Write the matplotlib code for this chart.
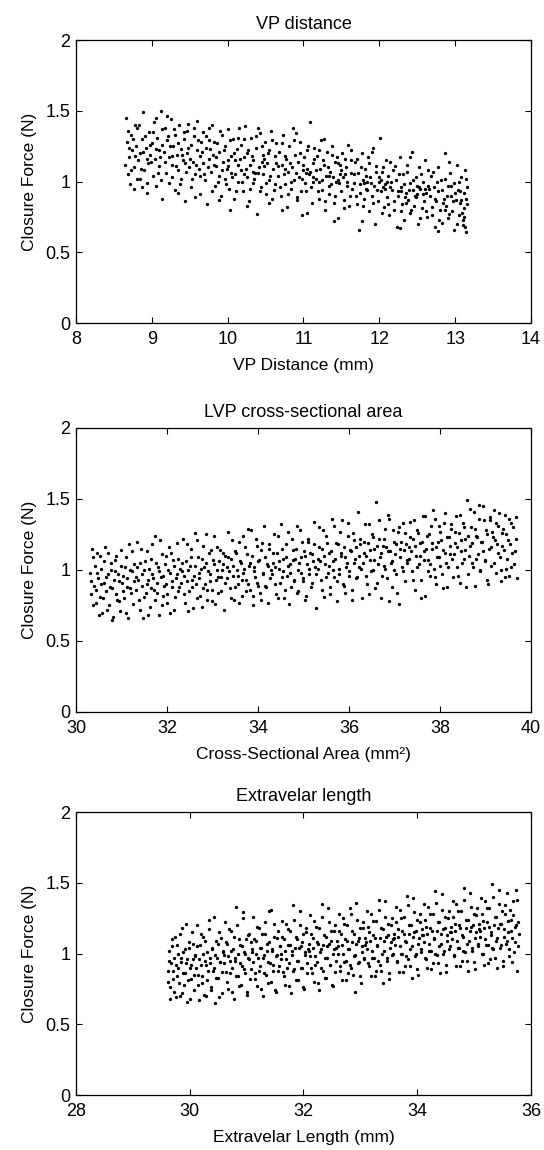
import matplotlib
matplotlib.use('Agg')
import matplotlib.pyplot as plt
import numpy as np

plt.rcParams['font.family'] = ['Liberation Sans', 'DejaVu Sans']

# VP distance panel: (VP distance mm, closure force N)
vp_pts = [
    (8.66,1.45),(8.67,1.28),(8.68,1.05),(8.70,1.17),(8.71,0.98),(8.73,1.33),(8.74,1.22),(8.76,1.10),(8.77,0.95),(8.79,1.25),(8.80,1.38),
    (8.82,1.15),(8.84,1.02),(8.85,1.20),(8.87,1.30),(8.88,1.49),(8.90,1.08),(8.92,1.24),(8.93,0.92),(8.95,1.13),(8.96,1.35),(8.98,1.19),
    (9.00,1.27),(9.01,1.04),(9.03,1.42),(9.04,1.16),(9.06,0.97),(9.07,1.31),(9.09,1.22),(9.10,1.11),(9.12,1.50),(9.13,1.26),(9.14,0.88),
    (9.16,1.21),(9.17,1.38),(9.19,1.06),(9.20,1.29),(9.22,0.99),(9.23,1.17),(9.25,1.44),(9.27,1.12),(9.28,1.25),(9.30,0.94),(9.31,1.33),
    (9.33,1.19),(9.35,1.08),(9.36,1.40),(9.38,1.23),(9.39,1.02),(9.41,1.15),(9.43,1.30),(9.44,0.86),(9.46,1.20),(9.47,1.36),(9.49,1.10),
    (9.51,1.26),(9.52,0.96),(9.54,1.14),(9.55,1.32),(9.57,1.05),(9.59,1.22),(9.60,1.43),(9.62,1.09),(9.63,1.18),(9.64,0.91),(9.65,1.28),
    (9.67,1.13),(9.68,1.35),(9.70,1.01),(9.72,1.24),(9.73,0.84),(9.75,1.16),(9.76,1.29),(9.78,1.07),(9.80,1.40),(9.81,1.19),(9.83,0.97),
    (9.84,1.11),(9.86,1.27),(9.88,1.04),(9.89,1.21),(9.91,0.90),(9.92,1.33),(9.94,1.14),(9.96,1.02),(9.97,1.25),(9.99,1.09),(10.00,1.37),
    (10.02,0.95),(10.04,1.18),(10.05,1.06),(10.07,1.30),(10.08,0.88),(10.10,1.15),(10.12,1.23),(10.13,1.00),(10.14,1.12),(10.15,1.38),(10.03,0.80),
    (10.17,1.08),(10.18,1.26),(10.20,0.93),(10.22,1.17),(10.23,1.39),(10.25,1.03),(10.26,1.20),(10.28,0.86),(10.30,1.12),(10.31,1.31),(10.33,0.99),
    (10.34,1.15),(10.36,1.06),(10.38,1.24),(10.39,0.77),(10.41,1.10),(10.42,1.34),(10.44,0.96),(10.46,1.19),(10.47,1.05),(10.49,1.28),(10.50,0.91),
    (10.52,1.13),(10.54,1.01),(10.55,1.22),(10.57,1.36),(10.58,0.88),(10.60,1.09),(10.62,1.18),(10.63,0.98),(10.64,1.27),(10.21,1.05),(10.45,1.14),
    (10.67,1.04),(10.68,1.21),(10.70,0.90),(10.72,1.12),(10.73,1.33),(10.75,0.98),(10.77,1.16),(10.78,0.82),(10.80,1.07),(10.81,1.25),(10.83,0.95),
    (10.85,1.10),(10.86,1.38),(10.88,1.01),(10.89,1.19),(10.91,0.87),(10.93,1.14),(10.94,1.03),(10.96,1.28),(10.97,0.93),(10.99,1.08),(11.01,1.17),
    (11.02,0.99),(11.04,1.22),(11.05,0.78),(11.07,1.05),(11.09,1.42),(11.10,0.96),(11.12,1.13),(11.13,1.00),(11.14,1.24),(10.76,1.09),(11.03,1.06),
    (11.17,1.02),(11.18,1.18),(11.20,0.88),(11.22,1.09),(11.23,1.29),(11.25,0.94),(11.27,1.12),(11.28,0.80),(11.30,1.04),(11.31,1.21),(11.33,0.91),
    (11.35,1.07),(11.36,0.98),(11.38,1.25),(11.40,0.85),(11.41,1.14),(11.43,1.00),(11.44,1.17),(11.46,0.74),(11.48,1.05),(11.49,0.93),(11.51,1.20),
    (11.52,1.03),(11.54,0.87),(11.56,1.10),(11.57,0.97),(11.59,1.26),(11.60,0.83),(11.62,1.06),(11.63,1.15),(11.64,0.95),(11.21,1.00),(11.45,1.01),
    (11.67,0.99),(11.68,1.14),(11.70,0.84),(11.72,1.06),(11.73,0.66),(11.75,0.92),(11.77,1.20),(11.78,1.01),(11.80,0.88),(11.81,1.09),(11.83,0.95),
    (11.85,1.17),(11.86,0.79),(11.88,1.03),(11.90,0.90),(11.91,1.24),(11.93,0.97),(11.94,0.70),(11.96,1.11),(11.98,0.86),(11.99,1.00),(12.01,1.31),
    (12.02,0.93),(12.04,1.07),(12.06,0.82),(12.07,0.98),(12.09,1.15),(12.10,0.89),(12.12,1.04),(12.13,0.76),(12.14,0.96),(11.84,1.00),(12.05,0.96),
    (12.17,0.94),(12.18,1.08),(12.20,0.80),(12.22,1.01),(12.23,0.68),(12.25,0.90),(12.27,1.17),(12.28,0.96),(12.30,0.84),(12.31,1.05),(12.33,0.73),
    (12.35,0.92),(12.36,1.12),(12.38,0.87),(12.40,0.99),(12.41,0.78),(12.43,1.21),(12.44,0.94),(12.46,0.83),(12.48,1.03),(12.49,0.89),(12.51,0.70),
    (12.52,1.10),(12.54,0.95),(12.56,0.81),(12.57,1.00),(12.59,0.86),(12.60,1.15),(12.62,0.92),(12.63,0.75),(12.64,0.97),(12.29,0.93),(12.50,0.91),
    (12.67,0.90),(12.68,1.04),(12.70,0.76),(12.72,0.96),(12.73,0.68),(12.75,0.86),(12.77,1.10),(12.78,0.93),(12.80,0.80),(12.81,1.01),(12.83,0.71),
    (12.85,0.88),(12.86,1.20),(12.88,0.83),(12.90,0.97),(12.91,0.74),(12.93,1.06),(12.94,0.90),(12.96,0.79),(12.98,0.99),(12.99,0.66),(13.01,0.87),
    (13.02,1.12),(13.04,0.94),(13.05,0.76),(13.07,0.85),(13.08,1.03),(13.10,0.69),(13.11,0.92),(13.12,0.81),(13.13,1.08),(13.14,0.64),(13.15,0.96),
    (13.10,0.73),(13.14,0.88),
]
vp_pts_more = [
    (8.65,1.12),(8.69,1.36),(8.72,1.08),(8.75,1.30),(8.78,1.18),(8.81,1.02),(8.83,1.40),(8.86,1.09),(8.89,1.21),(8.91,1.32),(8.94,0.99),(8.97,1.26),
    (8.99,1.14),(9.02,1.35),(9.05,1.23),(9.08,1.06),(9.11,1.17),(9.14,1.37),(8.70,1.24),(8.93,1.16),(9.06,1.45),(8.78,1.40),(9.12,1.01),(8.87,0.96),
    (9.18,1.14),(9.21,1.32),(9.24,1.25),(9.26,1.03),(9.29,1.37),(9.32,1.11),(9.34,1.27),(9.37,0.98),(9.40,1.19),(9.42,1.35),(9.45,1.07),(9.48,1.24),
    (9.50,1.16),(9.53,1.02),(9.56,1.38),(9.58,1.12),(9.61,1.29),(9.63,1.04),(9.20,1.46),(9.34,0.92),(9.48,1.41),(9.57,0.89),(9.26,1.18),(9.44,1.13),
    (9.66,1.21),(9.69,1.05),(9.71,1.32),(9.74,1.10),(9.77,1.23),(9.79,0.93),(9.82,1.28),(9.85,1.17),(9.87,1.00),(9.90,1.36),(9.93,1.08),(9.95,1.22),
    (9.98,0.98),(10.01,1.15),(10.03,1.29),(10.06,1.03),(10.09,1.20),(10.11,0.93),(10.14,1.31),(9.75,1.38),(9.88,0.87),(10.00,1.11),(10.10,1.05),(9.82,1.12),
    (10.16,1.16),(10.19,1.00),(10.21,1.30),(10.24,1.09),(10.27,1.22),(10.29,0.95),(10.32,1.18),(10.35,1.02),(10.37,1.32),(10.40,1.06),(10.43,0.93),(10.45,1.25),
    (10.48,1.11),(10.51,0.99),(10.53,1.20),(10.56,1.04),(10.59,1.29),(10.61,0.94),(10.64,1.13),(10.26,0.83),(10.40,1.38),(10.55,0.85),(10.33,1.07),(10.48,1.16),
    (10.66,1.11),(10.69,0.96),(10.71,1.27),(10.74,1.05),(10.76,1.18),(10.79,0.91),(10.82,1.13),(10.84,1.00),(10.87,1.29),(10.90,1.06),(10.92,0.89),(10.95,1.20),
    (10.98,1.02),(11.00,1.12),(11.03,0.93),(11.06,1.25),(11.08,1.07),(11.11,0.85),(11.14,1.16),(10.72,0.80),(10.90,1.34),(11.05,1.09),(10.98,0.76),(11.12,1.03),
    (11.16,1.08),(11.19,0.93),(11.21,1.22),(11.24,1.01),(11.26,1.15),(11.29,0.86),(11.32,1.10),(11.34,0.97),(11.37,1.19),(11.39,1.03),(11.42,0.90),(11.45,1.13),
    (11.47,0.99),(11.50,1.08),(11.53,0.81),(11.55,1.16),(11.58,1.00),(11.61,0.90),(11.63,1.22),(11.27,1.30),(11.40,0.72),(11.55,1.05),(11.33,1.04),(11.48,1.12),
    (11.66,1.05),(11.69,0.90),(11.71,1.16),(11.74,0.98),(11.76,1.10),(11.79,0.83),(11.82,1.04),(11.84,0.94),(11.87,1.13),(11.89,0.99),(11.92,0.85),(11.95,1.07),
    (11.97,0.94),(12.00,1.03),(12.03,0.78),(12.05,1.10),(12.08,0.95),(12.11,0.84),(12.14,1.14),(11.77,0.72),(11.90,1.21),(12.02,1.01),(11.80,0.99),(12.10,1.00),
    (12.16,1.00),(12.19,0.86),(12.21,1.11),(12.24,0.93),(12.26,1.05),(12.29,0.79),(12.32,0.98),(12.34,0.89),(12.37,1.07),(12.39,0.94),(12.42,0.80),(12.45,1.01),
    (12.47,0.90),(12.50,0.97),(12.53,0.74),(12.55,1.05),(12.58,0.91),(12.61,0.79),(12.64,1.08),(12.27,0.67),(12.40,1.17),(12.52,0.96),(12.35,0.85),(12.60,0.95),
    (12.66,0.95),(12.69,0.82),(12.71,1.07),(12.74,0.88),(12.76,1.00),(12.79,0.73),(12.82,0.94),(12.84,0.85),(12.87,1.02),(12.89,0.90),(12.92,0.77),(12.95,0.97),
    (12.97,0.86),(13.00,0.92),(13.03,0.70),(13.05,1.00),(13.08,0.87),(13.11,0.75),(13.14,1.02),(12.77,0.65),(12.92,1.14),(13.06,0.93),(12.86,0.80),(13.13,0.68),
    (13.09,0.78),(13.15,0.84),
]

# LVP cross-sectional area panel: (area mm^2, closure force N)
lvp_pts = [
    (30.32,0.92),(30.35,1.15),(30.38,0.75),(30.41,1.03),(30.44,0.86),(30.47,0.98),(30.50,0.68),(30.53,1.10),(30.56,0.90),(30.59,0.80),(30.62,1.06),
    (30.65,0.95),(30.68,0.72),(30.71,1.12),(30.74,0.88),(30.77,1.00),(30.80,0.65),(30.83,0.93),(30.86,1.07),(30.89,0.83),(30.92,0.97),(30.95,0.78),
    (30.98,1.14),(31.01,0.91),(31.04,0.85),(31.07,1.02),(31.10,0.70),(31.13,0.94),(31.16,1.18),(31.19,0.87),(31.22,0.99),(31.25,0.76),(31.28,1.04),
    (31.32,0.95),(31.35,1.20),(31.38,0.79),(31.41,1.05),(31.44,0.89),(31.47,0.66),(31.50,1.00),(31.53,0.84),(31.56,1.13),(31.59,0.93),(31.62,0.74),
    (31.65,1.08),(31.68,0.97),(31.71,0.86),(31.74,1.24),(31.77,0.91),(31.80,1.02),(31.83,0.68),(31.86,0.95),(31.89,1.11),(31.92,0.82),(31.95,1.04),
    (31.98,0.90),(32.01,0.77),(32.04,1.16),(32.07,0.98),(32.10,0.88),(32.13,1.07),(32.16,0.72),(32.19,0.94),(32.22,1.19),(32.25,0.85),(32.28,1.01),
    (32.32,0.99),(32.35,1.22),(32.38,0.83),(32.41,1.06),(32.44,0.92),(32.47,0.71),(32.50,1.03),(32.53,1.15),(32.56,0.88),(32.59,0.96),(32.62,1.26),
    (32.65,0.80),(32.68,1.09),(32.71,0.94),(32.74,1.01),(32.77,0.74),(32.80,1.17),(32.83,0.90),(32.86,1.05),(32.89,0.86),(32.92,1.12),(32.95,0.97),
    (32.98,0.78),(33.01,1.07),(33.04,1.24),(33.07,0.93),(33.10,1.00),(33.13,0.84),(33.16,1.14),(33.19,0.95),(33.22,1.04),(33.25,0.72),(33.28,1.10),
    (33.32,1.02),(33.35,1.27),(33.38,0.87),(33.41,1.08),(33.44,0.96),(33.47,0.79),(33.50,1.13),(33.53,1.00),(33.56,0.90),(33.59,1.20),(33.62,1.05),
    (33.65,0.82),(33.68,0.98),(33.71,1.16),(33.74,0.93),(33.77,1.29),(33.80,1.03),(33.83,0.86),(33.86,1.10),(33.89,0.75),(33.92,0.99),(33.95,1.22),
    (33.98,0.91),(34.01,1.06),(34.04,0.84),(34.07,1.14),(34.10,0.97),(34.13,1.31),(34.16,0.89),(34.19,1.04),(34.22,0.77),(34.25,1.18),(34.28,1.00),
    (34.32,1.05),(34.35,1.25),(34.38,0.90),(34.41,1.12),(34.44,0.80),(34.47,1.01),(34.50,1.32),(34.53,0.95),(34.56,1.08),(34.59,0.86),(34.62,1.18),
    (34.65,1.03),(34.68,0.76),(34.71,0.98),(34.74,1.22),(34.77,1.07),(34.80,0.92),(34.83,1.15),(34.86,0.84),(34.89,1.00),(34.92,1.28),(34.95,1.09),
    (34.98,0.94),(35.01,1.13),(35.04,0.79),(35.07,1.04),(35.10,1.20),(35.13,0.97),(35.16,0.88),(35.19,1.11),(35.22,1.34),(35.25,1.02),(35.28,0.73),
    (35.32,1.08),(35.35,1.30),(35.38,0.93),(35.41,1.15),(35.44,0.81),(35.47,1.04),(35.50,1.24),(35.53,0.98),(35.56,1.12),(35.59,0.88),(35.62,1.36),
    (35.65,1.06),(35.68,0.95),(35.71,1.19),(35.74,0.78),(35.77,1.01),(35.80,1.27),(35.83,1.10),(35.86,0.90),(35.89,1.16),(35.92,0.84),(35.95,1.05),
    (35.98,1.33),(36.01,0.99),(36.04,1.13),(36.07,0.86),(36.10,1.21),(36.13,1.08),(36.16,0.94),(36.19,1.41),(36.22,1.02),(36.25,1.18),(36.28,0.80),
    (36.32,1.12),(36.35,1.32),(36.38,0.96),(36.41,1.19),(36.44,0.83),(36.47,1.07),(36.50,1.25),(36.53,1.00),(36.56,1.15),(36.59,1.48),(36.62,0.91),
    (36.65,1.22),(36.68,1.09),(36.71,0.80),(36.74,1.17),(36.77,1.03),(36.80,1.29),(36.83,0.94),(36.86,1.13),(36.89,1.36),(36.92,1.05),(36.95,0.88),
    (36.98,1.20),(37.01,1.11),(37.04,0.97),(37.07,1.27),(37.10,0.76),(37.13,1.15),(37.16,1.02),(37.19,1.33),(37.22,0.92),(37.25,1.18),(37.28,1.07),
    (37.32,1.16),(37.35,1.34),(37.38,0.99),(37.41,1.22),(37.44,0.86),(37.47,1.10),(37.50,1.28),(37.53,1.04),(37.56,1.19),(37.59,0.93),(37.62,1.38),
    (37.65,1.13),(37.68,0.82),(37.71,1.24),(37.74,1.07),(37.77,0.96),(37.80,1.31),(37.83,1.15),(37.86,1.01),(37.89,1.36),(37.92,0.90),(37.95,1.20),
    (37.98,1.09),(38.01,1.27),(38.04,0.97),(38.07,1.14),(38.10,1.40),(38.13,1.05),(38.16,0.88),(38.19,1.23),(38.22,1.11),(38.25,1.32),(38.28,0.95),
    (38.32,1.19),(38.35,1.38),(38.38,1.02),(38.41,1.26),(38.44,0.91),(38.47,1.13),(38.50,1.33),(38.53,1.08),(38.56,1.22),(38.59,1.49),(38.62,0.97),
    (38.65,1.17),(38.68,1.30),(38.71,1.05),(38.74,1.41),(38.77,0.89),(38.80,1.24),(38.83,1.11),(38.86,1.36),(38.89,1.00),(38.92,1.20),(38.95,1.45),
    (38.98,1.07),(39.01,1.28),(39.04,0.93),(39.07,1.15),(39.10,1.35),(39.13,1.03),(39.16,1.23),(39.19,1.42),(39.22,0.98),(39.25,1.18),(39.28,1.31),
    (39.31,1.09),(39.34,0.92),(39.37,1.26),(39.40,1.14),(39.43,1.39),(39.46,1.01),(39.49,1.21),(39.52,0.96),(39.55,1.33),(39.58,1.12),(39.62,1.04),
    (39.66,1.37),(39.69,0.94),
]
lvp_pts_more = [
    (30.31,0.98),(30.34,0.83),(30.37,1.09),(30.40,0.89),(30.43,0.77),(30.46,1.12),(30.49,0.94),(30.52,0.81),(30.55,1.01),(30.58,0.70),(30.61,0.91),
    (30.64,1.16),(30.67,0.85),(30.70,0.97),(30.73,0.75),(30.76,1.05),(30.79,0.87),(30.82,0.67),(30.85,0.99),(30.88,1.10),(30.91,0.79),(30.94,0.92),
    (30.97,0.71),(31.00,1.03),(31.03,0.96),(31.06,0.80),(31.09,1.09),(31.12,0.88),(31.15,0.66),(31.18,1.00),(31.21,0.84),(31.24,1.13),(31.27,0.92),
    (31.31,0.86),(31.34,1.02),(31.37,0.93),(31.40,0.72),(31.43,1.15),(31.46,0.97),(31.49,0.81),(31.52,1.06),(31.55,0.90),(31.58,0.68),(31.61,1.01),
    (31.64,0.87),(31.67,1.18),(31.70,0.94),(31.73,0.79),(31.76,1.05),(31.79,0.84),(31.82,0.99),(31.85,1.21),(31.88,0.75),(31.91,0.96),(31.94,0.89),
    (31.97,1.10),(32.00,0.83),(32.03,1.00),(32.06,0.70),(32.09,1.12),(32.12,0.92),(32.15,1.03),(32.18,0.81),(32.21,0.97),(32.24,1.08),(32.27,0.88),
    (32.31,0.91),(32.34,1.05),(32.37,0.96),(32.40,0.77),(32.43,1.18),(32.46,1.00),(32.49,0.85),(32.52,1.09),(32.55,0.93),(32.58,0.73),(32.61,1.03),
    (32.64,0.90),(32.67,1.21),(32.70,0.98),(32.73,0.82),(32.76,1.08),(32.79,0.87),(32.82,1.02),(32.85,1.25),(32.88,0.79),(32.91,0.99),(32.94,0.92),
    (32.97,1.14),(33.00,0.86),(33.03,1.04),(33.06,0.76),(33.09,1.16),(33.12,0.95),(33.15,1.06),(33.18,0.85),(33.21,1.00),(33.24,1.12),(33.27,0.91),
    (33.31,0.94),(33.34,1.09),(33.37,0.99),(33.40,0.80),(33.43,1.21),(33.46,1.03),(33.49,0.88),(33.52,1.12),(33.55,0.96),(33.58,0.77),(33.61,1.06),
    (33.64,0.93),(33.67,1.24),(33.70,1.01),(33.73,0.85),(33.76,1.11),(33.79,0.90),(33.82,1.05),(33.85,1.28),(33.88,0.82),(33.91,1.02),(33.94,0.95),
    (33.97,1.17),(34.00,0.89),(34.03,1.07),(34.06,0.79),(34.09,1.19),(34.12,0.98),(34.15,1.09),(34.18,0.88),(34.21,1.03),(34.24,1.15),(34.27,0.94),
    (34.31,0.97),(34.34,1.12),(34.37,1.02),(34.40,0.83),(34.43,1.24),(34.46,1.06),(34.49,0.91),(34.52,1.15),(34.55,0.99),(34.58,0.80),(34.61,1.09),
    (34.64,0.96),(34.67,1.27),(34.70,1.04),(34.73,0.88),(34.76,1.14),(34.79,0.93),(34.82,1.08),(34.85,1.31),(34.88,0.85),(34.91,1.05),(34.94,0.98),
    (34.97,1.20),(35.00,0.92),(35.03,1.10),(35.06,0.82),(35.09,1.22),(35.12,1.01),(35.15,1.12),(35.18,0.91),(35.21,1.06),(35.24,1.18),(35.27,0.97),
    (35.31,1.01),(35.34,1.16),(35.37,1.06),(35.40,0.86),(35.43,1.28),(35.46,1.10),(35.49,0.95),(35.52,1.19),(35.55,1.03),(35.58,0.83),(35.61,1.13),
    (35.64,1.00),(35.67,1.31),(35.70,1.08),(35.73,0.92),(35.76,1.18),(35.79,0.97),(35.82,1.12),(35.85,1.35),(35.88,0.89),(35.91,1.09),(35.94,1.02),
    (35.97,1.24),(36.00,0.96),(36.03,1.14),(36.06,0.79),(36.09,1.26),(36.12,1.05),(36.15,1.16),(36.18,0.95),(36.21,1.10),(36.24,1.22),(36.27,1.01),
    (36.31,1.05),(36.34,1.20),(36.37,1.10),(36.40,0.90),(36.43,1.32),(36.46,1.14),(36.49,0.99),(36.52,1.23),(36.55,1.07),(36.58,0.87),(36.61,1.17),
    (36.64,1.04),(36.67,1.35),(36.70,1.12),(36.73,0.96),(36.76,1.22),(36.79,1.01),(36.82,1.16),(36.85,1.39),(36.88,0.78),(36.91,1.13),(36.94,1.06),
    (36.97,1.28),(37.00,1.00),(37.03,1.18),(37.06,0.84),(37.09,1.30),(37.12,1.09),(37.15,1.20),(37.18,0.99),(37.21,1.14),(37.24,1.26),(37.27,1.05),
    (37.31,1.08),(37.34,1.23),(37.37,1.13),(37.40,0.93),(37.43,1.35),(37.46,1.17),(37.49,1.02),(37.52,1.26),(37.55,1.10),(37.58,0.80),(37.61,1.20),
    (37.64,1.07),(37.67,1.38),(37.70,1.15),(37.73,0.99),(37.76,1.25),(37.79,1.04),(37.82,1.19),(37.85,1.42),(37.88,0.95),(37.91,1.16),(37.94,1.09),
    (37.97,1.31),(38.00,1.03),(38.03,1.21),(38.06,0.87),(38.09,1.33),(38.12,1.12),(38.15,1.23),(38.18,1.02),(38.21,1.17),(38.24,1.29),(38.27,1.08),
    (38.31,1.11),(38.34,1.27),(38.37,1.16),(38.40,0.96),(38.43,1.39),(38.46,1.21),(38.49,1.05),(38.52,1.30),(38.55,1.14),(38.58,0.88),(38.61,1.24),
    (38.64,1.10),(38.67,1.43),(38.70,1.19),(38.73,1.02),(38.76,1.29),(38.79,1.08),(38.82,1.23),(38.85,1.46),(38.88,0.99),(38.91,1.20),(38.94,1.13),
    (38.97,1.35),(39.00,1.06),(39.03,1.25),(39.06,0.90),(39.09,1.37),(39.12,1.16),(39.15,1.27),(39.18,1.05),(39.21,1.21),(39.24,1.33),(39.27,1.12),
    (39.30,1.40),(39.33,1.00),(39.36,1.17),(39.39,1.29),(39.42,0.95),(39.45,1.25),(39.48,1.08),(39.51,1.36),(39.54,1.18),(39.57,1.02),(39.60,1.30),
    (39.64,1.13),(39.68,1.22),
]

# Extravelar length panel: (length mm, closure force N)
ext_pts = [
    (29.62,0.80),(29.64,0.95),(29.66,0.68),(29.68,1.05),(29.70,0.88),(29.72,0.73),(29.74,1.12),(29.76,0.92),(29.78,0.84),(29.80,1.00),(29.82,0.70),
    (29.84,0.97),(29.86,1.18),(29.88,0.86),(29.90,0.78),(29.92,1.03),(29.94,0.93),(29.96,0.66),(29.98,1.08),(30.00,0.90),(30.02,0.82),(30.04,1.15),
    (30.06,0.96),(30.08,0.74),
    (30.10,0.98),(30.12,1.20),(30.14,0.85),(30.16,0.67),(30.18,1.06),(30.20,0.92),(30.22,0.79),(30.24,1.12),(30.26,0.95),(30.28,0.70),(30.30,1.01),
    (30.32,0.88),(30.34,1.24),(30.36,0.93),(30.38,0.76),(30.40,1.04),(30.42,0.90),(30.44,0.65),(30.46,1.09),(30.48,0.97),(30.50,0.83),(30.52,1.15),
    (30.54,0.94),(30.56,0.72),(30.58,1.02),
    (30.60,0.99),(30.62,1.22),(30.64,0.87),(30.66,1.07),(30.68,0.75),(30.70,0.95),(30.72,1.16),(30.74,0.90),(30.76,1.03),(30.78,0.68),(30.80,0.97),
    (30.82,1.33),(30.84,0.84),(30.86,1.10),(30.88,0.93),(30.90,0.78),(30.92,1.05),(30.94,1.25),(30.96,0.89),(30.98,1.00),(31.00,0.73),(31.02,1.13),
    (31.04,0.96),(31.06,0.82),(31.08,1.08),
    (31.10,1.01),(31.12,1.26),(31.14,0.86),(31.16,1.09),(31.18,0.77),(31.20,0.97),(31.22,1.18),(31.24,0.91),(31.26,1.04),(31.28,0.70),(31.30,0.99),
    (31.32,1.14),(31.34,0.85),(31.36,1.07),(31.38,0.94),(31.40,1.30),(31.42,0.80),(31.44,1.02),(31.46,0.92),(31.48,1.21),(31.50,0.74),(31.52,0.98),
    (31.54,1.11),(31.56,0.88),(31.58,1.05),
    (31.60,1.00),(31.62,1.23),(31.64,0.87),(31.66,1.10),(31.68,0.78),(31.70,0.96),(31.72,1.17),(31.74,0.93),(31.76,1.06),(31.78,0.72),(31.80,1.02),
    (31.82,1.34),(31.84,0.89),(31.86,1.12),(31.88,0.95),(31.90,0.81),(31.92,1.04),(31.94,1.20),(31.96,0.90),(31.98,1.08),(32.00,0.76),(32.02,0.99),
    (32.04,1.15),(32.06,0.86),(32.08,1.03),
    (32.10,1.02),(32.12,1.27),(32.14,0.90),(32.16,1.11),(32.18,0.80),(32.20,0.98),(32.22,1.19),(32.24,0.94),(32.26,1.07),(32.28,0.74),(32.30,1.03),
    (32.32,1.35),(32.34,0.88),(32.36,1.13),(32.38,0.97),(32.40,0.83),(32.42,1.05),(32.44,1.22),(32.46,0.92),(32.48,1.09),(32.50,0.78),(32.52,1.00),
    (32.54,1.16),(32.56,0.87),(32.58,1.04),
    (32.60,1.05),(32.62,1.28),(32.64,0.91),(32.66,1.14),(32.68,0.81),(32.70,1.00),(32.72,1.21),(32.74,0.95),(32.76,1.09),(32.78,0.86),(32.80,1.03),
    (32.82,1.32),(32.84,0.90),(32.86,1.16),(32.88,0.98),(32.90,0.73),(32.92,1.07),(32.94,1.24),(32.96,0.93),(32.98,1.11),(33.00,0.84),(33.02,1.01),
    (33.04,1.18),(33.06,0.96),(33.08,1.06),
    (33.10,1.08),(33.12,1.30),(33.14,0.93),(33.16,1.15),(33.18,0.84),(33.20,1.02),(33.22,1.23),(33.24,0.97),(33.26,1.11),(33.28,0.88),(33.30,1.05),
    (33.32,1.38),(33.34,0.92),(33.36,1.18),(33.38,1.00),(33.40,0.79),(33.42,1.09),(33.44,1.26),(33.46,0.95),(33.48,1.13),(33.50,0.86),(33.52,1.04),
    (33.54,1.20),(33.56,0.99),(33.58,1.10),
    (33.60,1.11),(33.62,1.33),(33.64,0.95),(33.66,1.17),(33.68,0.87),(33.70,1.05),(33.72,1.25),(33.74,1.00),(33.76,1.14),(33.78,0.91),(33.80,1.08),
    (33.82,1.41),(33.84,0.96),(33.86,1.20),(33.88,1.03),(33.90,0.83),(33.92,1.12),(33.94,1.29),(33.96,0.98),(33.98,1.16),(34.00,0.89),(34.02,1.07),
    (34.04,1.22),(34.06,1.01),(34.08,1.13),
    (34.10,1.13),(34.12,1.35),(34.14,0.97),(34.16,1.19),(34.18,0.90),(34.20,1.07),(34.22,1.28),(34.24,1.02),(34.26,1.16),(34.28,0.93),(34.30,1.10),
    (34.32,1.44),(34.34,0.99),(34.36,1.22),(34.38,1.05),(34.40,0.86),(34.42,1.14),(34.44,1.31),(34.46,1.00),(34.48,1.18),(34.50,0.92),(34.52,1.09),
    (34.54,1.25),(34.56,1.03),(34.58,1.15),
    (34.60,1.15),(34.62,1.37),(34.64,0.99),(34.66,1.21),(34.68,0.91),(34.70,1.09),(34.72,1.30),(34.74,1.04),(34.76,1.18),(34.78,0.95),(34.80,1.12),
    (34.82,1.46),(34.84,1.01),(34.86,1.24),(34.88,1.07),(34.90,0.88),(34.92,1.16),(34.94,1.33),(34.96,1.02),(34.98,1.20),(35.00,0.94),(35.02,1.11),
    (35.04,1.27),(35.06,1.05),(35.08,1.17),
    (35.10,1.16),(35.12,1.39),(35.14,1.00),(35.16,1.23),(35.18,0.92),(35.20,1.10),(35.22,1.32),(35.24,1.06),(35.26,1.19),(35.28,0.96),(35.30,1.13),
    (35.32,1.49),(35.34,1.03),(35.36,1.26),(35.38,1.09),(35.40,0.90),(35.42,1.18),(35.44,1.35),(35.46,1.04),(35.48,1.21),(35.50,0.95),(35.52,1.12),
    (35.54,1.28),(35.56,1.07),(35.58,1.43),(35.60,1.15),(35.62,0.98),(35.64,1.24),(35.66,1.11),(35.68,1.37),(35.70,1.01),(35.72,1.19),(35.74,1.45),
    (35.76,0.88),(35.78,1.22),
]
ext_pts_more = [
    (29.61,0.88),(29.63,1.02),(29.65,0.76),(29.67,0.93),(29.69,1.10),(29.71,0.82),(29.73,0.97),(29.75,0.69),(29.77,1.06),(29.79,0.90),(29.81,0.79),
    (29.83,1.14),(29.85,0.94),(29.87,0.72),(29.89,1.01),(29.91,0.86),(29.93,1.21),(29.95,0.96),(29.97,0.81),(29.99,1.04),(30.01,0.68),(30.03,0.92),
    (30.05,1.07),(30.07,0.85),(30.09,0.99),
    (30.11,0.90),(30.13,1.05),(30.15,0.78),(30.17,0.96),(30.19,1.14),(30.21,0.84),(30.23,1.00),(30.25,0.71),(30.27,1.09),(30.29,0.92),(30.31,0.81),
    (30.33,1.17),(30.35,0.97),(30.37,0.74),(30.39,1.03),(30.41,0.88),(30.43,1.26),(30.45,0.99),(30.47,0.83),(30.49,1.07),(30.51,0.69),(30.53,0.94),
    (30.55,1.11),(30.57,0.87),(30.59,1.01),
    (30.61,0.93),(30.63,1.08),(30.65,0.80),(30.67,0.98),(30.69,1.17),(30.71,0.86),(30.73,1.02),(30.75,0.73),(30.77,1.12),(30.79,0.95),(30.81,0.84),
    (30.83,1.20),(30.85,1.00),(30.87,0.77),(30.89,1.06),(30.91,0.91),(30.93,1.29),(30.95,1.01),(30.97,0.86),(30.99,1.10),(31.01,0.71),(31.03,0.97),
    (31.05,1.14),(31.07,0.89),(31.09,1.03),
    (31.11,0.94),(31.13,1.10),(31.15,0.82),(31.17,1.00),(31.19,1.19),(31.21,0.88),(31.23,1.04),(31.25,0.75),(31.27,1.14),(31.29,0.97),(31.31,0.86),
    (31.33,1.22),(31.35,1.02),(31.37,0.79),(31.39,1.08),(31.41,0.93),(31.43,1.31),(31.45,1.03),(31.47,0.88),(31.49,1.12),(31.51,0.73),(31.53,0.99),
    (31.55,1.16),(31.57,0.91),(31.59,1.05),
    (31.61,0.96),(31.63,1.12),(31.65,0.84),(31.67,1.02),(31.69,1.21),(31.71,0.90),(31.73,1.06),(31.75,0.77),(31.77,1.16),(31.79,0.99),(31.81,0.88),
    (31.83,1.24),(31.85,1.04),(31.87,0.81),(31.89,1.10),(31.91,0.95),(31.93,1.30),(31.95,1.05),(31.97,0.90),(31.99,1.14),(32.01,0.75),(32.03,1.01),
    (32.05,1.18),(32.07,0.93),(32.09,1.07),
    (32.11,0.98),(32.13,1.14),(32.15,0.86),(32.17,1.04),(32.19,1.23),(32.21,0.92),(32.23,1.08),(32.25,0.79),(32.27,1.18),(32.29,1.01),(32.31,0.90),
    (32.33,1.26),(32.35,1.06),(32.37,0.83),(32.39,1.12),(32.41,0.97),(32.43,1.32),(32.45,1.07),(32.47,0.92),(32.49,1.16),(32.51,0.77),(32.53,1.03),
    (32.55,1.20),(32.57,0.95),(32.59,1.09),
    (32.61,1.00),(32.63,1.16),(32.65,0.88),(32.67,1.06),(32.69,1.25),(32.71,0.94),(32.73,1.10),(32.75,0.81),(32.77,1.20),(32.79,1.03),(32.81,0.92),
    (32.83,1.28),(32.85,1.08),(32.87,0.85),(32.89,1.14),(32.91,0.99),(32.93,1.36),(32.95,1.09),(32.97,0.94),(32.99,1.18),(33.01,0.79),(33.03,1.05),
    (33.05,1.22),(33.07,0.97),(33.09,1.11),
    (33.11,1.03),(33.13,1.19),(33.15,0.91),(33.17,1.09),(33.19,1.28),(33.21,0.97),(33.23,1.13),(33.25,0.84),(33.27,1.23),(33.29,1.06),(33.31,0.95),
    (33.33,1.31),(33.35,1.11),(33.37,0.88),(33.39,1.17),(33.41,1.02),(33.43,1.37),(33.45,1.12),(33.47,0.97),(33.49,1.21),(33.51,0.82),(33.53,1.08),
    (33.55,1.25),(33.57,1.00),(33.59,1.14),
    (33.61,1.06),(33.63,1.22),(33.65,0.94),(33.67,1.12),(33.69,1.31),(33.71,1.00),(33.73,1.16),(33.75,0.87),(33.77,1.26),(33.79,1.09),(33.81,0.98),
    (33.83,1.34),(33.85,1.14),(33.87,0.91),(33.89,1.20),(33.91,1.05),(33.93,1.39),(33.95,1.15),(33.97,1.00),(33.99,1.24),(34.01,0.85),(34.03,1.11),
    (34.05,1.28),(34.07,1.03),(34.09,1.17),
    (34.11,1.08),(34.13,1.24),(34.15,0.96),(34.17,1.14),(34.19,1.33),(34.21,1.02),(34.23,1.18),(34.25,0.89),(34.27,1.28),(34.29,1.11),(34.31,1.00),
    (34.33,1.36),(34.35,1.16),(34.37,0.93),(34.39,1.22),(34.41,1.07),(34.43,1.42),(34.45,1.17),(34.47,1.02),(34.49,1.26),(34.51,0.87),(34.53,1.13),
    (34.55,1.30),(34.57,1.05),(34.59,1.19),
    (34.61,1.10),(34.63,1.26),(34.65,0.98),(34.67,1.16),(34.69,1.35),(34.71,1.04),(34.73,1.20),(34.75,0.91),(34.77,1.30),(34.79,1.13),(34.81,1.02),
    (34.83,1.38),(34.85,1.18),(34.87,0.95),(34.89,1.24),(34.91,1.09),(34.93,1.43),(34.95,1.19),(34.97,1.04),(34.99,1.28),(35.01,0.89),(35.03,1.15),
    (35.05,1.32),(35.07,1.07),(35.09,1.21),
    (35.11,1.12),(35.13,1.28),(35.15,1.00),(35.17,1.18),(35.19,1.37),(35.21,1.06),(35.23,1.22),(35.25,0.93),(35.27,1.32),(35.29,1.15),(35.31,1.04),
    (35.33,1.40),(35.35,1.20),(35.37,0.97),(35.39,1.26),(35.41,1.11),(35.43,1.45),(35.45,1.21),(35.47,1.06),(35.49,1.30),(35.51,0.91),(35.53,1.17),
    (35.55,1.34),(35.57,1.09),(35.59,1.23),(35.61,1.03),(35.63,1.31),(35.65,1.16),(35.67,0.94),(35.69,1.27),(35.71,1.08),(35.73,1.20),(35.75,1.38),
    (35.77,1.05),(35.79,1.14),
]

titles = ['VP distance', 'LVP cross-sectional area', 'Extravelar length']
xlabels = ['VP Distance (mm)', 'Cross-Sectional Area (mm\u00b2)', 'Extravelar Length (mm)']
ylabel = 'Closure Force (N)'
xlims = [(8, 14), (30, 40), (28, 36)]
xticks = [[8, 9, 10, 11, 12, 13, 14], [30, 32, 34, 36, 38, 40], [28, 30, 32, 34, 36]]
yticks = [0, 0.5, 1, 1.5, 2]
yticklabels = ['0', '0.5', '1', '1.5', '2']

fig = plt.figure(figsize=(5.44, 11.5), dpi=100)

# axes boxes in figure fractions: left, bottom, width, height
boxes = [(0.1397, 0.7191, 0.8364, 0.2461),
         (0.1397, 0.3809, 0.8364, 0.2470),
         (0.1397, 0.0478, 0.8364, 0.2461)]

panels = [vp_pts + vp_pts_more, lvp_pts + lvp_pts_more, ext_pts + ext_pts_more]

for i, pts in enumerate(panels):
    ax = fig.add_axes(boxes[i])
    arr = np.array(pts)
    ax.plot(arr[:, 0], arr[:, 1], 'o', color='black', markersize=2.4,
            markeredgewidth=0, linestyle='none')
    ax.set_xlim(*xlims[i])
    ax.set_ylim(0, 2)
    ax.set_xticks(xticks[i])
    ax.set_yticks(yticks)
    ax.set_yticklabels(yticklabels)
    ax.tick_params(axis='both', direction='in', top=True, right=True, length=4,
                   width=0.8, labelsize=13)
    ax.tick_params(axis='x', pad=6)
    ax.tick_params(axis='y', pad=4)
    for s in ax.spines.values():
        s.set_linewidth(0.9)
    ax.set_title(titles[i], fontsize=13, pad=8)
    ax.set_xlabel(xlabels[i], fontsize=12.5, labelpad=7)
    ax.set_ylabel(ylabel, fontsize=12.5, labelpad=6)

fig.savefig('out.png', dpi=100)
